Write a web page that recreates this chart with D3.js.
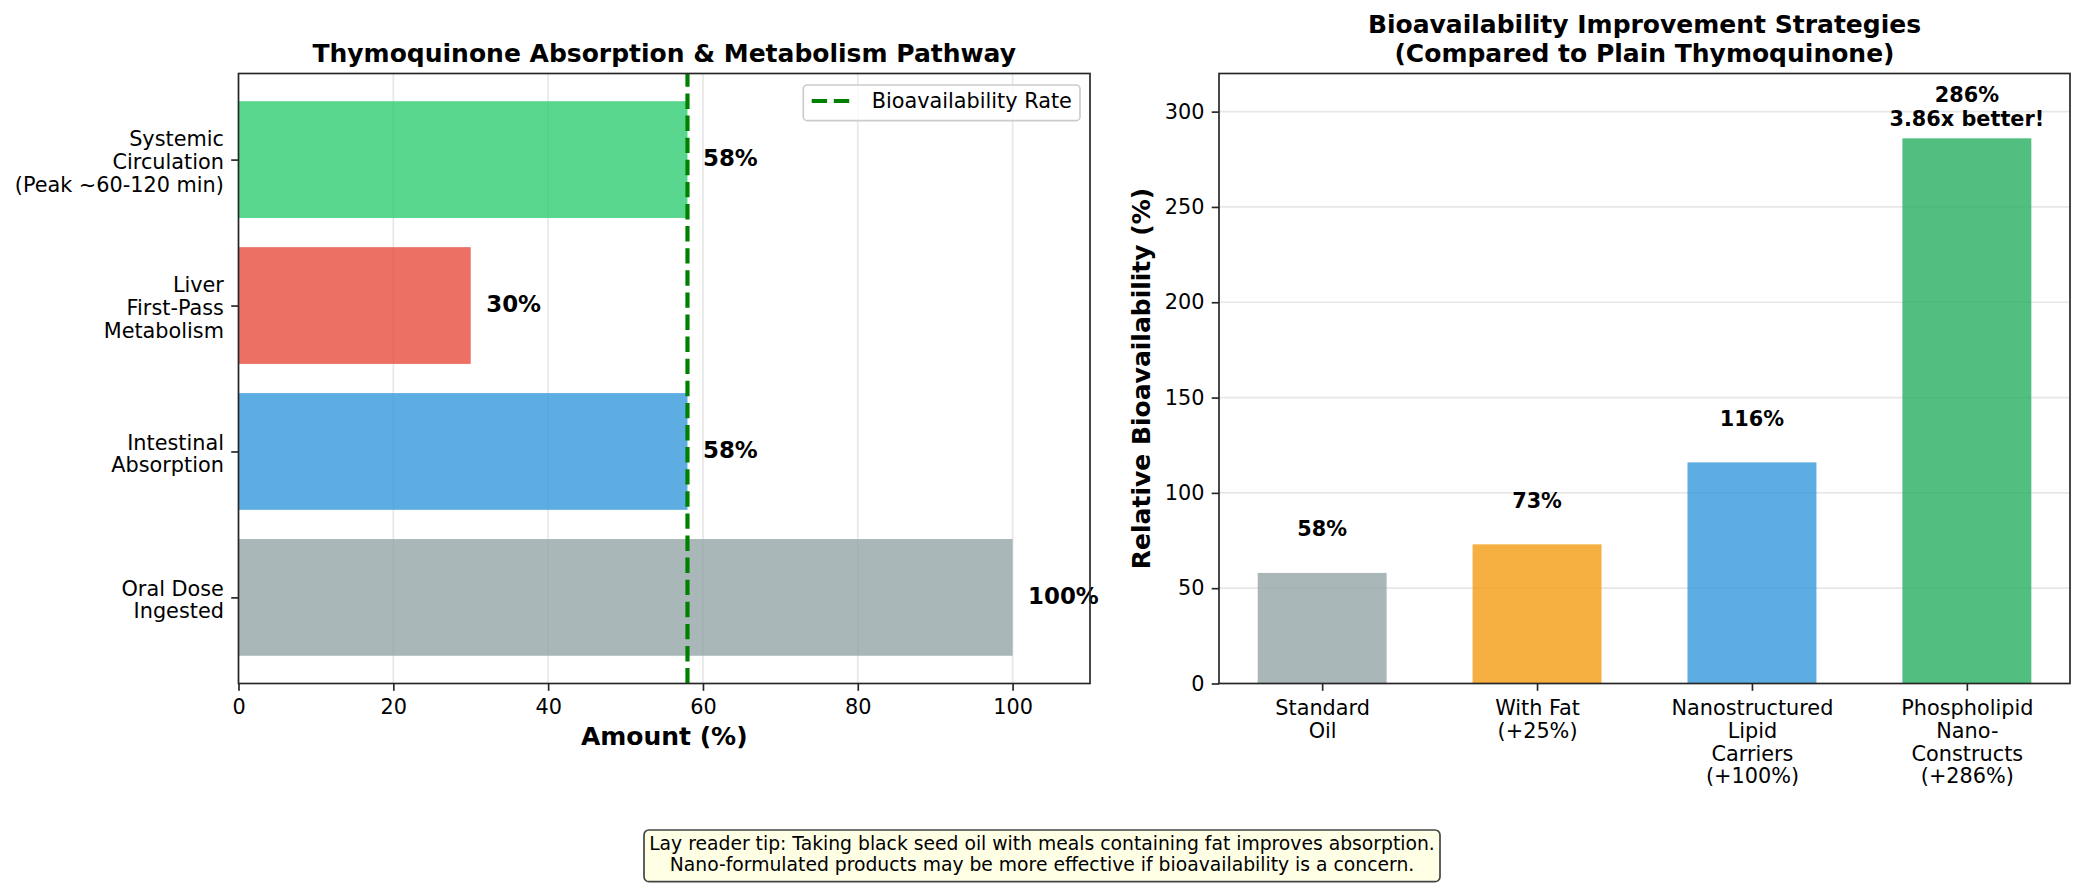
<!DOCTYPE html>
<html><head><meta charset="utf-8">
<script src="https://cdn.jsdelivr.net/npm/d3@7"></script>
<style>
body{margin:0;background:#fff}
svg{display:block}
text{font-family:"DejaVu Sans",sans-serif;fill:#000}
</style>
</head><body>
<svg id="c" width="2085" height="891"></svg>
<script>
// ---------- data ----------
const stages = ["Oral Dose\nIngested", "Intestinal\nAbsorption", "Liver\nFirst-Pass\nMetabolism", "Systemic\nCirculation\n(Peak ~60-120 min)"];
const stageValues = [100, 58, 30, 58];
const stageColors = ["#95a5a6", "#3498db", "#e74c3c", "#2ecc71"];
const amountTicks = [0, 20, 40, 60, 80, 100];
const bioavailabilityRate = 58;

const strategies = ["Standard\nOil", "With Fat\n(+25%)", "Nanostructured\nLipid\nCarriers\n(+100%)", "Phospholipid\nNano-\nConstructs\n(+286%)"];
const strategyValues = [58, 73, 116, 286];
const strategyLabels = ["58%", "73%", "116%", "286%\n3.86x better!"];
const strategyColors = ["#95a5a6", "#f39c12", "#3498db", "#27ae60"];
const bioTicks = [0, 50, 100, 150, 200, 250, 300];

const tipLines = ["Lay reader tip: Taking black seed oil with meals containing fat improves absorption.",
                  "Nano-formulated products may be more effective if bioavailability is a concern."];

// ---------- layout ----------
const svg = d3.select("#c");
const TOP = 73.5, BOT = 683.5;
const L = {x0: 238.5, x1: 1090};
const R = {x0: 1219, x1: 2070};
const spineColor = "#262626";
const gridColor = "#b0b0b0";
const tickFS = 20.8, lineH = 22.8;

// ---------- left chart ----------
const xL = d3.scaleLinear().domain([0, 110]).range([L.x0, L.x1]);
const yL = d3.scaleLinear().domain([-0.59, 3.59]).range([BOT, TOP]);
const gl = svg.append("g");

gl.append("g").selectAll("line").data(amountTicks).join("line")
  .attr("x1", d => xL(d)).attr("x2", d => xL(d)).attr("y1", TOP).attr("y2", BOT)
  .attr("stroke", gridColor).attr("stroke-opacity", 0.3).attr("stroke-width", 1.67);

gl.append("g").selectAll("rect").data(stageValues).join("rect")
  .attr("x", xL(0)).attr("width", d => xL(d) - xL(0))
  .attr("y", (d, i) => yL(i + 0.4)).attr("height", (d, i) => yL(i - 0.4) - yL(i + 0.4))
  .attr("fill", (d, i) => stageColors[i]).attr("fill-opacity", 0.8);

gl.append("line")
  .attr("x1", xL(bioavailabilityRate)).attr("x2", xL(bioavailabilityRate))
  .attr("y1", BOT).attr("y2", TOP)
  .attr("stroke", "green").attr("stroke-width", 4.17).attr("stroke-dasharray", "15.4 6.7");

gl.append("g").selectAll("text").data(stageValues).join("text")
  .attr("x", d => xL(d + 2)).attr("y", (d, i) => yL(i) + 6.5)
  .attr("font-size", 22.9).attr("font-weight", "bold")
  .text(d => d + "%");

// axes
const axL = gl.append("g").attr("transform", `translate(0,${BOT})`)
  .call(d3.axisBottom(xL).tickValues(amountTicks).tickSize(7.3).tickPadding(8.5));
const ayL = gl.append("g").attr("transform", `translate(${L.x0},0)`)
  .call(d3.axisLeft(yL).tickValues(d3.range(stages.length)).tickSize(7.3).tickFormat(i => stages[i]));

// spines
gl.append("rect").attr("x", L.x0).attr("y", TOP).attr("width", L.x1 - L.x0).attr("height", BOT - TOP)
  .attr("fill", "none").attr("stroke", spineColor).attr("stroke-width", 1.67);

// titles
gl.append("text").attr("x", (L.x0 + L.x1) / 2).attr("y", 61.7).attr("text-anchor", "middle")
  .attr("font-size", 25).attr("font-weight", "bold").text("Thymoquinone Absorption & Metabolism Pathway");
gl.append("text").attr("x", (L.x0 + L.x1) / 2).attr("y", 745).attr("text-anchor", "middle")
  .attr("font-size", 25).attr("font-weight", "bold").text("Amount (%)");

// legend
const lg = gl.append("g");
lg.append("rect").attr("x", 803.3).attr("y", 85).attr("width", 276.7).attr("height", 35.7).attr("rx", 4)
  .attr("fill", "#fff").attr("fill-opacity", 0.8).attr("stroke", "#cccccc").attr("stroke-width", 1.67);
lg.append("line").attr("x1", 811.7).attr("x2", 853.3).attr("y1", 101).attr("y2", 101)
  .attr("stroke", "green").attr("stroke-width", 4.17).attr("stroke-dasharray", "15.4 6.7");
lg.append("text").attr("x", 871.7).attr("y", 108.3).attr("font-size", tickFS).text("Bioavailability Rate");

// ---------- right chart ----------
const xR = d3.scaleLinear().domain([-0.48, 3.48]).range([R.x0, R.x1]);
const yR = d3.scaleLinear().domain([0, 320]).range([BOT, TOP]);
const gr = svg.append("g");

gr.append("g").selectAll("line").data(bioTicks).join("line")
  .attr("x1", R.x0).attr("x2", R.x1).attr("y1", d => yR(d)).attr("y2", d => yR(d))
  .attr("stroke", gridColor).attr("stroke-opacity", 0.3).attr("stroke-width", 1.67);

gr.append("g").selectAll("rect").data(strategyValues).join("rect")
  .attr("x", (d, i) => xR(i - 0.3)).attr("width", (d, i) => xR(i + 0.3) - xR(i - 0.3))
  .attr("y", d => yR(d)).attr("height", d => yR(0) - yR(d))
  .attr("fill", (d, i) => strategyColors[i]).attr("fill-opacity", 0.8);

gr.append("g").selectAll("text").data(strategyValues).join("text")
  .attr("text-anchor", "middle").attr("font-size", tickFS).attr("font-weight", "bold")
  .each(function (d, i) {
    const lines = strategyLabels[i].split("\n");
    const gap = lines.length > 1 ? 12.3 : 36.5;
    const lastY = yR(d) - gap;
    const t = d3.select(this);
    lines.forEach((ln, k) => {
      t.append("tspan").attr("x", xR(i)).attr("y", lastY - (lines.length - 1 - k) * 24.3).text(ln);
    });
  });

const axR = gr.append("g").attr("transform", `translate(0,${BOT})`)
  .call(d3.axisBottom(xR).tickValues(d3.range(strategies.length)).tickSize(7.3).tickFormat(i => strategies[i]));
const ayR = gr.append("g").attr("transform", `translate(${R.x0},0)`)
  .call(d3.axisLeft(yR).tickValues(bioTicks).tickSize(7.3).tickPadding(7.3));

gr.append("rect").attr("x", R.x0).attr("y", TOP).attr("width", R.x1 - R.x0).attr("height", BOT - TOP)
  .attr("fill", "none").attr("stroke", spineColor).attr("stroke-width", 1.67);

gr.append("text").attr("text-anchor", "middle").attr("font-size", 25).attr("font-weight", "bold")
  .selectAll("tspan").data(["Bioavailability Improvement Strategies", "(Compared to Plain Thymoquinone)"]).join("tspan")
  .attr("x", (R.x0 + R.x1) / 2).attr("y", (d, i) => 33.3 + i * 28.4).text(d => d);

gr.append("text").attr("transform", `translate(1150,${(TOP + BOT) / 2}) rotate(-90)`)
  .attr("text-anchor", "middle").attr("font-size", 25).attr("font-weight", "bold")
  .text("Relative Bioavailability (%)");

// ---------- axis styling ----------
[axL, ayL, axR, ayR].forEach(a => {
  a.select(".domain").remove();
  a.selectAll(".tick line").attr("stroke", spineColor).attr("stroke-width", 1.67);
  a.selectAll(".tick text").attr("font-size", tickFS).attr("font-family", "DejaVu Sans").attr("fill", "#000");
});

// multi-line left tick labels
ayL.selectAll(".tick text").each(function (i) {
  const lines = stages[i].split("\n");
  const t = d3.select(this).text(null).attr("dy", null).attr("x", -14.6);
  lines.forEach((ln, k) => {
    t.append("tspan").attr("x", -14.6).attr("y", 9 + (k - (lines.length - 1) / 2) * lineH).text(ln);
  });
});
// multi-line right x tick labels
axR.selectAll(".tick text").each(function (i) {
  const lines = strategies[i].split("\n");
  const t = d3.select(this).text(null).attr("dy", null);
  lines.forEach((ln, k) => {
    t.append("tspan").attr("x", 0).attr("y", 31.5 + k * lineH).text(ln);
  });
});

// ---------- footer tip ----------
const fg = svg.append("g");
fg.append("rect").attr("x", 644).attr("y", 830).attr("width", 796).attr("height", 51.7).attr("rx", 5)
  .attr("fill", "#ffffe6").attr("stroke", "#444").attr("stroke-width", 1.7);
fg.append("text").attr("text-anchor", "middle").attr("font-size", 18.75)
  .selectAll("tspan").data(tipLines).join("tspan")
  .attr("x", 1042).attr("y", (d, i) => 850 + i * 20.5).text(d => d);
</script>
</body></html>
